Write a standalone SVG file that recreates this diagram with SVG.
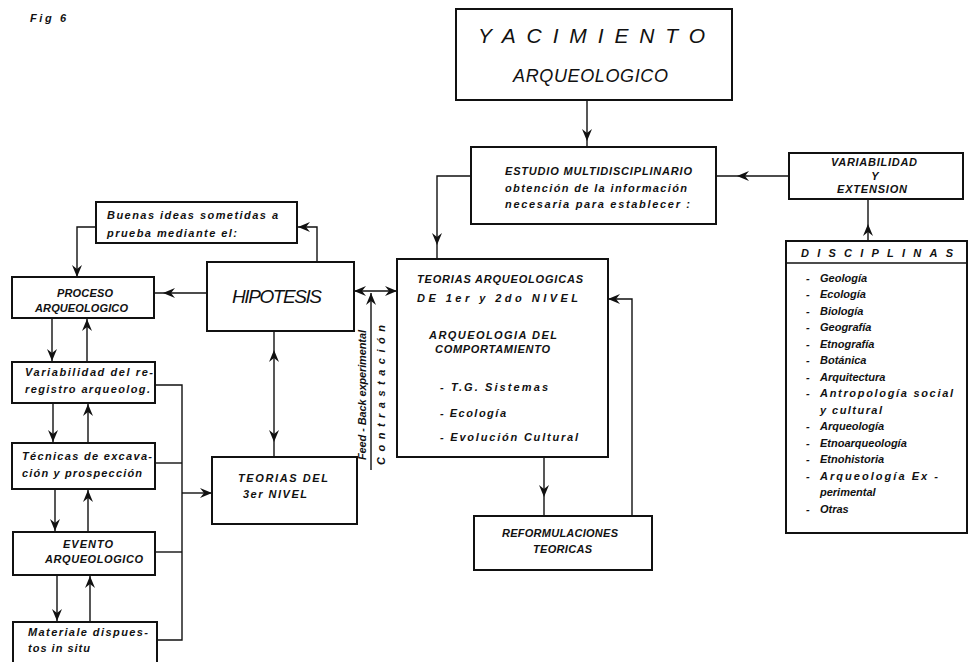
<svg xmlns="http://www.w3.org/2000/svg" width="972" height="662" viewBox="0 0 972 662">
<style>
.box{fill:#fff;stroke:#111;stroke-width:2}
.ln{fill:none;stroke:#111;stroke-width:1.4}
.t{font-family:"Liberation Sans",Arial,sans-serif;font-style:italic;font-weight:bold;font-size:11px;fill:#111}
.big{font-family:"Liberation Sans",Arial,sans-serif;font-style:italic;font-weight:normal;fill:#111}
.arr{marker-end:url(#ah)}
.mid{marker-mid:url(#ah)}
.both{marker-start:url(#ah);marker-end:url(#ah)}
</style>
<defs>
<marker id="ah" viewBox="0 0 12 10" refX="12" refY="5" markerWidth="12" markerHeight="10" markerUnits="userSpaceOnUse" orient="auto-start-reverse">
<path d="M0,0 L12,5 L0,10 L4,5 z" fill="#111"/>
</marker>
</defs>
<rect width="972" height="662" fill="#fff"/>
<text class="t" x="30" y="22" font-size="9" textLength="36">Fig 6</text>

<g id="connectors">
<path class="ln mid" d="M587,100 L587,141 L587,147"/>
<path class="ln arr" d="M471,176 H437 V245"/>
<path class="ln" d="M437,245 V259"/>
<path class="ln mid" d="M789,176 L737,176 L716,176"/>
<path class="ln mid" d="M868,241 L868,224 L868,199"/>
<path class="ln arr" d="M632,516 V299 H608"/>
<path class="ln mid" d="M544,457 L544,497 L544,516"/>
<path class="ln both" d="M354,291 H397"/>
<path class="ln arr" d="M371,470 V293"/>
<path class="ln arr" d="M317,262 V227 H298"/>
<path class="ln arr" d="M96,227 H77 V277"/>
<path class="ln mid" d="M207,293 L163,293 L154,293"/>
<path class="ln mid" d="M274,396 L274,350 L274,331"/>
<path class="ln mid" d="M274,396 L274,442 L274,457"/>
<path class="ln arr" d="M52,318 V361"/>
<path class="ln arr" d="M87,362 V319"/>
<path class="ln arr" d="M53,403 V442"/>
<path class="ln arr" d="M88,443 V404"/>
<path class="ln arr" d="M55,489 V531"/>
<path class="ln arr" d="M88,532 V490"/>
<path class="ln arr" d="M57,575 V621"/>
<path class="ln arr" d="M90,622 V576"/>
<path class="ln" d="M155,385 H182 V640 H157"/>
<path class="ln" d="M155,463 H182"/>
<path class="ln" d="M155,552 H182"/>
<path class="ln arr" d="M182,493 H212"/>
<text class="t" font-size="8" transform="translate(366,460) rotate(-90)" textLength="130">Feed - Back experimental</text>
<text class="t" font-size="9" transform="translate(385,465) rotate(-90)" textLength="140" lengthAdjust="spacing">Contrastación</text>
</g>

<g id="yacimiento">
<rect class="box" x="456" y="9" width="276" height="91"/>
<text class="big" x="478" y="43" font-size="21" textLength="227" lengthAdjust="spacing">YACIMIENTO</text>
<text class="big" x="513" y="82" font-size="18" textLength="155">ARQUEOLOGICO</text>
</g>

<g id="estudio">
<rect class="box" x="471" y="147" width="245" height="77"/>
<text class="t" x="505" y="175" textLength="187">ESTUDIO MULTIDISCIPLINARIO</text>
<text class="t" x="505" y="192" textLength="182">obtención de la información</text>
<text class="t" x="505" y="208" textLength="185">necesaria para establecer :</text>
</g>

<g id="variabilidad-extension">
<rect class="box" x="789" y="153" width="174" height="46"/>
<text class="t" x="831" y="166" font-size="10" textLength="86">VARIABILIDAD</text>
<text class="t" x="875" y="180" font-size="6" text-anchor="middle">Y</text>
<text class="t" x="837" y="193" font-size="11" textLength="70">EXTENSION</text>
</g>

<g id="disciplinas">
<rect class="box" x="786" y="241" width="181" height="292"/>
<line class="ln" x1="786" y1="263" x2="967" y2="263" stroke-width="1.8"/>
<text class="t" x="801" y="257" font-size="11" textLength="152" lengthAdjust="spacing">DISCIPLINAS</text>
<text class="t" font-size="12"><tspan x="806" y="282">-</tspan><tspan x="820" y="282">Geología</tspan></text>
<text class="t" font-size="12"><tspan x="806" y="298">-</tspan><tspan x="820" y="298">Ecología</tspan></text>
<text class="t" font-size="12"><tspan x="806" y="315">-</tspan><tspan x="820" y="315">Biología</tspan></text>
<text class="t" font-size="12"><tspan x="806" y="331">-</tspan><tspan x="820" y="331">Geografía</tspan></text>
<text class="t" font-size="12"><tspan x="806" y="348">-</tspan><tspan x="820" y="348">Etnografía</tspan></text>
<text class="t" font-size="12"><tspan x="806" y="364">-</tspan><tspan x="820" y="364">Botánica</tspan></text>
<text class="t" font-size="12"><tspan x="806" y="381">-</tspan><tspan x="820" y="381">Arquitectura</tspan></text>
<text class="t" font-size="12"><tspan x="806" y="397">-</tspan><tspan x="820" y="397" textLength="133">Antropología social</tspan></text>
<text class="t" font-size="12" x="820" y="414" textLength="62">y cultural</text>
<text class="t" font-size="12"><tspan x="806" y="430">-</tspan><tspan x="820" y="430">Arqueología</tspan></text>
<text class="t" font-size="12"><tspan x="806" y="447">-</tspan><tspan x="820" y="447">Etnoarqueología</tspan></text>
<text class="t" font-size="12"><tspan x="806" y="463">-</tspan><tspan x="820" y="463">Etnohistoria</tspan></text>
<text class="t" font-size="12"><tspan x="806" y="480">-</tspan><tspan x="820" y="480" textLength="118">Arqueología Ex -</tspan></text>
<text class="t" font-size="12" x="820" y="496">perimental</text>
<text class="t" font-size="12"><tspan x="806" y="513">-</tspan><tspan x="820" y="513">Otras</tspan></text>
</g>

<g id="teorias-arqueologicas">
<rect class="box" x="397" y="259" width="211" height="198"/>
<text class="t" x="417" y="283" font-size="11.5" textLength="166">TEORIAS ARQUEOLOGICAS</text>
<text class="t" x="417" y="302" font-size="11.5" textLength="161" lengthAdjust="spacing">DE  1er  y  2do  NIVEL</text>
<text class="t" x="429" y="339" font-size="11.5" textLength="128" lengthAdjust="spacing">ARQUEOLOGIA  DEL</text>
<text class="t" x="435" y="353" font-size="11.5" textLength="115">COMPORTAMIENTO</text>
<text class="t" x="440" y="391" font-size="11.5" textLength="108" lengthAdjust="spacing">- T.G.  Sistemas</text>
<text class="t" x="440" y="417" font-size="11.5" textLength="66">- Ecología</text>
<text class="t" x="440" y="441" font-size="11.5" textLength="138" lengthAdjust="spacing">- Evolución  Cultural</text>
</g>

<g id="reformulaciones">
<rect class="box" x="474" y="516" width="178" height="54"/>
<text class="t" x="502" y="537" textLength="116">REFORMULACIONES</text>
<text class="t" x="533" y="553" textLength="59">TEORICAS</text>
</g>

<g id="hipotesis">
<rect class="box" x="207" y="262" width="147" height="69"/>
<text class="big" x="232" y="303" font-size="19" textLength="90">HIPOTESIS</text>
</g>

<g id="buenas-ideas">
<rect class="box" x="96" y="202" width="201" height="41"/>
<text class="t" x="107" y="219" font-size="11.5" textLength="171" lengthAdjust="spacing">Buenas ideas sometidas a</text>
<text class="t" x="107" y="237" font-size="11.5" textLength="130">prueba mediante el:</text>
</g>

<g id="proceso">
<rect class="box" x="12" y="277" width="142" height="41"/>
<text class="t" x="57" y="297" textLength="56">PROCESO</text>
<text class="t" x="35" y="312" textLength="93">ARQUEOLOGICO</text>
</g>

<g id="teorias-3er-nivel">
<rect class="box" x="212" y="457" width="145" height="67"/>
<text class="t" x="238" y="482" textLength="90" lengthAdjust="spacing">TEORIAS  DEL</text>
<text class="t" x="243" y="498" textLength="64" lengthAdjust="spacing">3er  NIVEL</text>
</g>

<g id="variabilidad-registro">
<rect class="box" x="12" y="362" width="143" height="41"/>
<text class="t" x="25" y="376" textLength="128" lengthAdjust="spacing">Variabilidad del re-</text>
<text class="t" x="25" y="393" textLength="125">registro arqueolog.</text>
</g>

<g id="tecnicas">
<rect class="box" x="12" y="443" width="143" height="46"/>
<text class="t" x="22" y="460" textLength="130" lengthAdjust="spacing">Técnicas de excava-</text>
<text class="t" x="22" y="477" textLength="120">ción y prospección</text>
</g>

<g id="evento">
<rect class="box" x="13" y="532" width="142" height="43"/>
<text class="t" x="63" y="548" textLength="50">EVENTO</text>
<text class="t" x="45" y="563" textLength="98">ARQUEOLOGICO</text>
</g>

<g id="materiales">
<rect class="box" x="13" y="622" width="144" height="50"/>
<text class="t" x="28" y="636" textLength="120" lengthAdjust="spacing">Materiale dispues-</text>
<text class="t" x="28" y="652" textLength="62" lengthAdjust="spacing">tos in situ</text>
</g>
</svg>
